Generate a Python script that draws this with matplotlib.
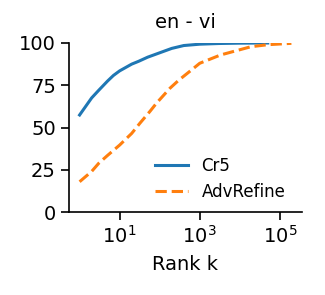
import matplotlib
matplotlib.use("Agg")
import matplotlib.pyplot as plt

title = "en - vi"
xlabel = "Rank k"
cr5_k = [1, 2, 3, 5, 7, 10, 20, 30, 50, 100, 200, 400, 1000, 3000, 10000, 50000]
cr5_v = [57.4, 67.5, 72, 77.5, 80.8, 83.5, 87.5, 89.2, 91.6, 94.2, 96.8, 98.5, 99.3, 99.7, 99.9, 100]
adv_k = [1, 2, 3, 5, 10, 20, 32, 57, 84, 180, 300, 700, 1000, 3300, 19000, 50000, 195000]
adv_v = [17.9, 24, 28.8, 33.5, 39.6, 46.5, 52.5, 59.5, 64.5, 73.2, 78, 85, 88, 92.9, 97.8, 99, 99.8]

fig = plt.figure(figsize=(3.25, 2.95), dpi=100)
ax = fig.add_axes([69/325, 1-212/295, (302-69)/325, (212-43)/295])
ax.plot(cr5_k, cr5_v, color="tab:blue", lw=2.2, label="Cr5")
ax.plot(adv_k, adv_v, color="tab:orange", lw=2.2, ls="--", label="AdvRefine")
ax.set_xscale("log")
ax.set_ylim(0, 100)
ax.set_yticks([0, 25, 50, 75, 100])
ax.set_xticks([10, 1000, 100000])
ax.minorticks_off()
ax.tick_params(labelsize=14, length=5.5, width=1.2, pad=4)
for s in ["left", "bottom"]:
    ax.spines[s].set_linewidth(1.2)
ax.spines["top"].set_visible(False)
ax.spines["right"].set_visible(False)
ax.set_title(title, fontsize=14, pad=11)
ax.set_xlabel(xlabel, fontsize=14, labelpad=6)
ax.legend(frameon=False, fontsize=12, loc="lower right", borderaxespad=0.25,
          bbox_to_anchor=(0.975, 0.0))
fig.savefig("out.png", dpi=100)
